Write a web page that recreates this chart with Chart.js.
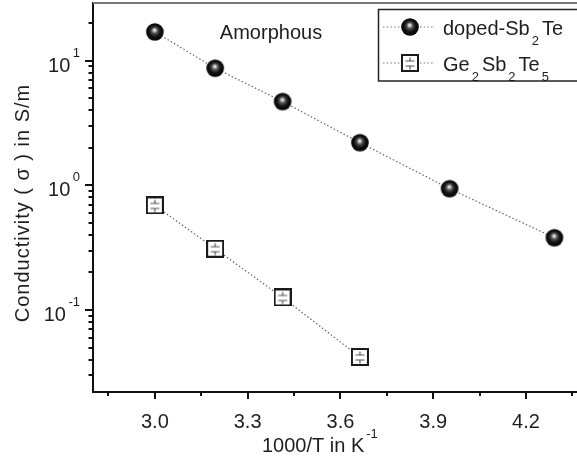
<!DOCTYPE html>
<html><head><meta charset="utf-8">
<script src="https://cdn.jsdelivr.net/npm/chart.js@4/dist/chart.umd.min.js"></script>
<style>html,body{margin:0;padding:0;background:#fff;} #wrap{width:577px;height:465px;}</style>
</head><body><div id="wrap"><canvas id="c" width="577" height="465"></canvas></div>
<script>
// ---- data ----
const invT = [3.0, 3.195, 3.413, 3.663, 3.953, 4.292];
const dopedSb2Te = [17.0, 8.7, 4.7, 2.2, 0.94, 0.38];
const invT_GST = [3.0, 3.195, 3.413, 3.663];
const ge2Sb2Te5 = [0.69, 0.31, 0.126, 0.042];
const seriesNames = ['doped-Sb2Te', 'Ge2Sb2Te5'];
const xMajorTicks = [3.0, 3.3, 3.6, 3.9, 4.2];
const xTickLabels = ['3.0', '3.3', '3.6', '3.9', '4.2'];
const xMinorTicks = [2.85, 3.15, 3.45, 3.75, 4.05, 4.35];
const yMajorTicks = [0.1, 1, 10];
const yTickExponents = ['-1', '0', '1'];
const yMinorTicks = [0.03,0.04,0.05,0.06,0.07,0.08,0.09,0.2,0.3,0.4,0.5,0.6,0.7,0.8,0.9,2,3,4,5,6,7,8,9,20];
const xTitle = '1000/T in K', xTitleSup = '-1';
const yTitle = 'Conductivity ( \u03c3 ) in S/m';
const annotationText = 'Amorphous';

const FONT = '"Liberation Sans", Arial, sans-serif';
const TXT = '#1e1e1e';

function sphereMarker(){
  const c = document.createElement('canvas'); c.width = 20; c.height = 20;
  const g = c.getContext('2d');
  const grad = g.createRadialGradient(9.7, 8, 0.3, 10, 10, 9);
  grad.addColorStop(0, '#f0f0f0');
  grad.addColorStop(0.14, '#b8b8b8');
  grad.addColorStop(0.3, '#555');
  grad.addColorStop(0.6, '#141414');
  grad.addColorStop(1, '#000');
  g.fillStyle = grad; g.beginPath(); g.arc(10, 10, 8.8, 0, Math.PI*2); g.fill();
  return c;
}
function squareMarker(){
  const c = document.createElement('canvas'); c.width = 18; c.height = 18;
  const g = c.getContext('2d');
  g.fillStyle = '#fff'; g.fillRect(1, 1, 16, 16);
  g.strokeStyle = '#1a1a1a'; g.lineWidth = 2; g.strokeRect(1, 1, 16, 16);
  g.strokeStyle = '#555'; g.lineWidth = 1.2;
  const cx = 9, cy = 9;
  g.beginPath();
  g.moveTo(cx-4.5, cy-2); g.lineTo(cx+4.5, cy-2);
  g.moveTo(cx, cy-2); g.lineTo(cx, cy-5.5);
  g.moveTo(cx-4.5, cy+3); g.lineTo(cx+4.5, cy+3);
  g.moveTo(cx, cy+3); g.lineTo(cx, cy+6.5);
  g.stroke();
  return c;
}
const sphere = sphereMarker();
const square = squareMarker();

function drawRich(ctx, text, x, base){
  const parts = text.split(/(\d+)/).filter(s => s.length);
  let cx = x;
  parts.forEach(p => {
    if (/^\d+$/.test(p)) {
      ctx.font = '13px ' + FONT; cx += 2;
      ctx.fillText(p, cx, base + 10);
      cx += ctx.measureText(p).width + 3;
    } else {
      ctx.font = '20px ' + FONT;
      ctx.fillText(p, cx, base);
      cx += ctx.measureText(p).width;
    }
  });
}

function zeroPad(s){ s.paddingLeft = 0; s.paddingRight = 0; s.paddingTop = 0; s.paddingBottom = 0; }

const deco = {
  id: 'deco',
  afterDraw(chart){
    const {ctx, chartArea: a, scales: {x, y}} = chart;
    ctx.save();
    // top frame
    ctx.strokeStyle = '#777'; ctx.lineWidth = 2;
    ctx.beginPath(); ctx.moveTo(a.left, a.top); ctx.lineTo(a.right, a.top); ctx.stroke();
    // ticks
    ctx.strokeStyle = '#111'; ctx.lineWidth = 2;
    ctx.beginPath();
    xMajorTicks.forEach(v => { const p = Math.round(x.getPixelForValue(v)); ctx.moveTo(p, a.bottom); ctx.lineTo(p, a.bottom + 7); });
    xMinorTicks.forEach(v => { const p = Math.round(x.getPixelForValue(v)); ctx.moveTo(p, a.bottom); ctx.lineTo(p, a.bottom + 4); });
    yMajorTicks.forEach(v => { const p = Math.round(y.getPixelForValue(v)); ctx.moveTo(a.left, p); ctx.lineTo(a.left - 8, p); });
    yMinorTicks.forEach(v => { const p = Math.round(y.getPixelForValue(v)); ctx.moveTo(a.left, p); ctx.lineTo(a.left - 4.5, p); });
    ctx.stroke();
    // y tick labels with superscripts
    ctx.fillStyle = TXT; ctx.textAlign = 'left'; ctx.textBaseline = 'alphabetic';
    yMajorTicks.forEach((v, i) => {
      const p = y.getPixelForValue(v);
      ctx.font = '13px ' + FONT;
      const w2 = ctx.measureText(yTickExponents[i]).width;
      ctx.font = '20px ' + FONT;
      const w1 = ctx.measureText('10').width;
      const supX = 80 - w2;
      ctx.fillText('10', supX - 2.5 - w1, p + 11);
      ctx.font = '13px ' + FONT;
      ctx.fillText(yTickExponents[i], supX, p - 4);
    });
    // x title
    ctx.font = '20px ' + FONT;
    ctx.fillText(xTitle, 262, 452);
    const wx = ctx.measureText(xTitle).width;
    ctx.font = '13px ' + FONT;
    ctx.fillText(xTitleSup, 262 + wx + 2, 438);
    // y title
    ctx.save();
    ctx.translate(29, 203); ctx.rotate(-Math.PI/2);
    ctx.font = '20px ' + FONT; ctx.textAlign = 'center';
    try { ctx.letterSpacing = '1px'; } catch(e) {}
    ctx.fillText(yTitle, 0, 0);
    ctx.restore();
    // annotation
    ctx.font = '20px ' + FONT; ctx.textAlign = 'center';
    ctx.fillText(annotationText, 271, 39);
    // legend
    ctx.textAlign = 'left';
    ctx.fillStyle = '#fff'; ctx.fillRect(378.5, 9.5, 210, 71.5);
    ctx.strokeStyle = '#222'; ctx.lineWidth = 1.5; ctx.strokeRect(378.5, 9.5, 210, 71.5);
    const rows = [27, 63];
    const marks = [sphere, square];
    chart.data.datasets.forEach((ds, i) => {
      const ry = rows[i];
      ctx.save();
      ctx.strokeStyle = '#777'; ctx.lineWidth = 1.2; ctx.setLineDash([1.5, 2.2]);
      ctx.beginPath(); ctx.moveTo(383, ry); ctx.lineTo(435, ry); ctx.stroke();
      ctx.restore();
      const m = marks[i];
      ctx.drawImage(m, Math.round(410 - m.width/2), Math.round(ry - m.height/2));
      ctx.fillStyle = TXT;
      drawRich(ctx, ds.label, 443, ry + 8);
    });
    ctx.restore();
  }
};

new Chart(document.getElementById('c'), {
  type: 'scatter',
  data: {
    datasets: [
      { label: seriesNames[0], data: invT.map((v, i) => ({x: v, y: dopedSb2Te[i]})),
        showLine: true, borderColor: '#666', borderWidth: 1.2, borderDash: [1.5, 2.2],
        pointStyle: sphere, pointRadius: 9, pointHoverRadius: 9 },
      { label: seriesNames[1], data: invT_GST.map((v, i) => ({x: v, y: ge2Sb2Te5[i]})),
        showLine: true, borderColor: '#666', borderWidth: 1.2, borderDash: [1.5, 2.2],
        pointStyle: square, pointRadius: 9, pointHoverRadius: 9 }
    ]
  },
  options: {
    responsive: false, animation: false, devicePixelRatio: 1,
    layout: { autoPadding: false, padding: { top: 3, right: 0, left: 0, bottom: 0 } },
    plugins: { legend: { display: false }, tooltip: { enabled: false } },
    scales: {
      x: { type: 'linear', min: 2.8, max: 4.365,
        grid: { display: false },
        border: { display: true, color: '#111', width: 2 },
        afterBuildTicks: s => { s.ticks = xMajorTicks.map(v => ({ value: v })); },
        afterFit: s => { s.height = 73; zeroPad(s); },
        ticks: { autoSkip: false, maxRotation: 0, padding: 10, color: TXT,
          font: { family: FONT, size: 20 },
          callback: (v, i) => xTickLabels[i] } },
      y: { type: 'logarithmic', min: 0.022, max: 29,
        grid: { display: false },
        border: { display: true, color: '#111', width: 2 },
        ticks: { display: false },
        afterFit: s => { s.width = 93; zeroPad(s); } }
    }
  },
  plugins: [deco]
});
</script>
</body></html>
